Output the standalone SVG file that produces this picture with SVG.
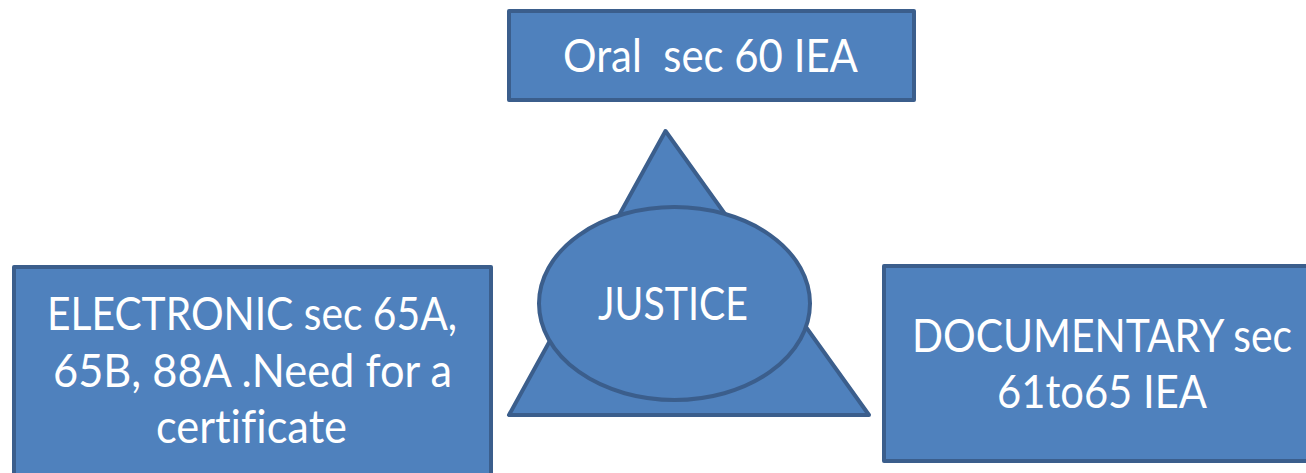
<svg xmlns="http://www.w3.org/2000/svg" width="1306" height="473" viewBox="0 0 1306 473">
<style>
.shape{fill:#4F81BD;stroke:#3B5E8C;stroke-width:4;stroke-linejoin:round}
.lbl{fill:#FFFFFF;font-family:Lato,"Open Sans","Liberation Sans",sans-serif;font-size:47px;font-variant-ligatures:none}
</style>
<rect width="1306" height="473" fill="#FFFFFF"/>
<g id="connectors"></g>
<g id="node-oral">
<rect class="shape" x="509" y="11" width="405" height="89"/>
<text class="lbl" x="563" y="72" textLength="295" lengthAdjust="spacingAndGlyphs" xml:space="preserve">Oral  sec 60 IEA</text>
</g>
<g id="node-justice">
<polygon class="shape" points="665.5,131 509,415 869,415"/>
<ellipse class="shape" cx="674.5" cy="303.5" rx="135.5" ry="96.5"/>
<text class="lbl" x="598" y="320" textLength="150" lengthAdjust="spacingAndGlyphs">JUSTICE</text>
</g>
<g id="node-electronic">
<rect class="shape" x="14" y="267" width="477" height="215"/>
<text class="lbl" x="47" y="330" textLength="410" lengthAdjust="spacingAndGlyphs">ELECTRONIC sec 65A,</text>
<text class="lbl" x="53" y="387" textLength="399" lengthAdjust="spacingAndGlyphs">65B, 88A .Need for a</text>
<text class="lbl" x="156" y="443" textLength="191" lengthAdjust="spacingAndGlyphs">certificate</text>
</g>
<g id="node-documentary">
<rect class="shape" x="884" y="266" width="430" height="195"/>
<text class="lbl" x="912" y="352" textLength="380" lengthAdjust="spacingAndGlyphs">DOCUMENTARY sec</text>
<text class="lbl" x="997" y="408" textLength="210" lengthAdjust="spacingAndGlyphs">61to65 IEA</text>
</g>
</svg>
